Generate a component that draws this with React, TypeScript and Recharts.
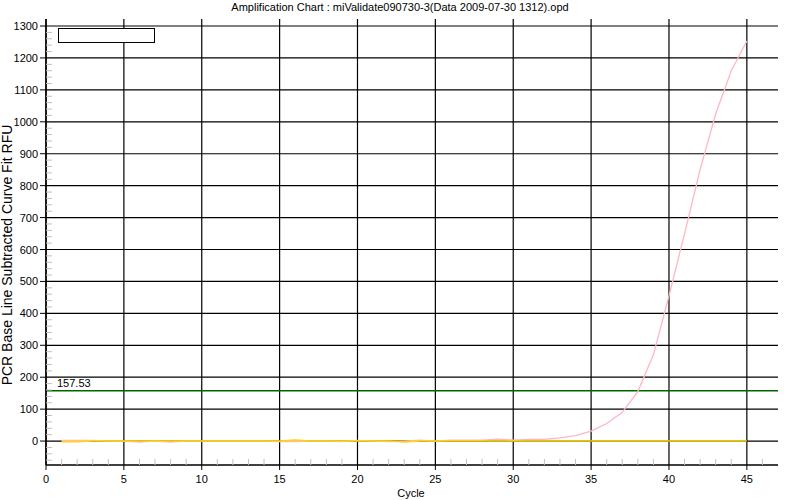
import React from 'react';
import { LineChart, Line, XAxis, YAxis, CartesianGrid, ReferenceLine, Legend } from 'recharts';

const FONT = '"Liberation Sans", Arial, sans-serif';

const cycles = [
  1, 2, 3, 4, 5, 6, 7, 8, 9, 10, 11, 12, 13, 14, 15, 16, 17, 18, 19, 20, 21, 22, 23,
  24, 25, 26, 27, 28, 29, 30, 31, 32, 33, 34, 35, 36, 37, 38, 39, 40, 41, 42, 43, 44, 45,
];
const wellPink = [
  2, 2, 2, 0, 0, -3, 0, -3, 0, 0, 0, 0, 0, 0, -2, -2, 0, 0, -2, 2, 0, -2, 0,
  3, 0, 3, 3, 3, 6, 3, 5, 5, 10, 17, 31, 55, 90, 155, 270, 455, 650, 850, 1025, 1160, 1253,
];
const wellYellow = [
  -2, -2, 0, 0, 0, 0, 0, 0, 0, 0, 0, 0, 0, 0, 0, 3, 0, 0, 0, 0, 0, 0, -3,
  0, 0, 0, 0, 0, 0, 0, 0, 0, 0, 0, 0, 0, 0, 0, 0, 0, 0, 0, 0, 0, 0,
];

const xTicks = Array.from({ length: 47 }, (_, i) => i);
const majorXTicks = [0, 5, 10, 15, 20, 25, 30, 35, 40, 45];
const yTicks = Array.from({ length: 69 }, (_, i) => -60 + i * 20);
const majorYTicks = [0, 100, 200, 300, 400, 500, 600, 700, 800, 900, 1000, 1100, 1200, 1300];
const threshold = 157.53;
const xDomain: [number, number] = [0, 47];
const yDomain: [number, number] = [-75, 1322];

const title = 'Amplification Chart : miValidate090730-3(Data 2009-07-30 1312).opd';
const xTitle = 'Cycle';
const yTitle = 'PCR Base Line Subtracted Curve Fit RFU';

const data = cycles.map((c, i) => ({ cycle: c, pink: wellPink[i], yellow: wellYellow[i] }));

const XTick = (props: any) => {
  const { x, y, payload } = props;
  const v = payload.value;
  if (majorXTicks.includes(v)) {
    return (
      <g>
        <line x1={x} y1={y} x2={x} y2={y + 5} stroke="#000" />
        <text x={x} y={y + 18} textAnchor="middle" fontSize={11} fontFamily={FONT} fill="#000">
          {v}
        </text>
      </g>
    );
  }
  return <line x1={x} y1={y - 6} x2={x} y2={y} stroke="#c0c0c0" />;
};

const YTick = (props: any) => {
  const { x, y, payload } = props;
  const v = payload.value;
  if (majorYTicks.includes(v)) {
    return (
      <g>
        <line x1={x - 6} y1={y} x2={x} y2={y} stroke="#000" />
        <text x={x - 8} y={y + 4} textAnchor="end" fontSize={11} fontFamily={FONT} fill="#000">
          {v}
        </text>
      </g>
    );
  }
  return <line x1={x} y1={y} x2={x + 6} y2={y} stroke="#c0c0c0" />;
};

const ThresholdLabel = (props: any) => {
  const vb = props.viewBox || {};
  return (
    <text x={vb.x + 11} y={vb.y - 4} fontSize={11} fontFamily={FONT} fill="#000">
      {threshold.toFixed(2)}
    </text>
  );
};

const LegendBox = () => (
  <div style={{ width: 97, height: 15, border: '1px solid #000', boxSizing: 'border-box', background: '#fff' }} />
);

export default function App() {
  return (
    <div style={{ position: 'absolute', left: 0, top: 0, width: 800, height: 500, background: '#fff' }}>
      <LineChart width={800} height={500} data={data} margin={{ top: 19, right: 22, bottom: 5, left: 0 }}>
        <CartesianGrid
          stroke="#000"
          strokeWidth={1.2}
          horizontalValues={majorYTicks}
          verticalValues={majorXTicks}
        />
        <XAxis
          dataKey="cycle"
          type="number"
          domain={xDomain}
          allowDataOverflow
          ticks={xTicks}
          interval={0}
          tickSize={0}
          tickMargin={0}
          tickLine={false}
          tick={<XTick />}
          axisLine={{ stroke: '#000', strokeWidth: 1.5 }}
          height={30}
        />
        <XAxis
          xAxisId="top"
          orientation="top"
          type="number"
          domain={xDomain}
          height={0}
          tick={false}
          tickLine={false}
          axisLine={{ stroke: '#000', strokeWidth: 1.5 }}
        />
        <YAxis
          type="number"
          domain={yDomain}
          allowDataOverflow
          ticks={yTicks}
          interval={0}
          tickSize={0}
          tickMargin={0}
          tickLine={false}
          tick={<YTick />}
          axisLine={{ stroke: '#000', strokeWidth: 1.5 }}
          width={46}
        />
        <YAxis
          yAxisId="right"
          orientation="right"
          type="number"
          domain={yDomain}
          width={0}
          tick={false}
          tickLine={false}
          axisLine={{ stroke: '#000', strokeWidth: 1.5 }}
        />
        <ReferenceLine y={threshold} stroke="#006400" strokeWidth={1.5} label={<ThresholdLabel />} />
        <Line
          type="linear"
          dataKey="pink"
          stroke="#ffb6c1"
          strokeWidth={1.3}
          dot={false}
          isAnimationActive={false}
        />
        <Line
          type="linear"
          dataKey="yellow"
          stroke="#ffd700"
          strokeWidth={1.5}
          dot={false}
          isAnimationActive={false}
        />
        <Legend
          layout="horizontal"
          verticalAlign="middle"
          align="center"
          content={<LegendBox />}
          wrapperStyle={{ left: 58, top: 28, width: 97, height: 15 }}
        />
        <text x={400} y={11} textAnchor="middle" fontSize={11} fontFamily={FONT} fill="#000">
          {title}
        </text>
        <text x={411} y={497} textAnchor="middle" fontSize={11} fontFamily={FONT} fill="#000">
          {xTitle}
        </text>
        <text
          x={12}
          y={255}
          textAnchor="middle"
          fontSize={14}
          fontFamily={FONT}
          fill="#000"
          transform="rotate(-90 12 255)"
        >
          {yTitle}
        </text>
      </LineChart>
    </div>
  );
}
